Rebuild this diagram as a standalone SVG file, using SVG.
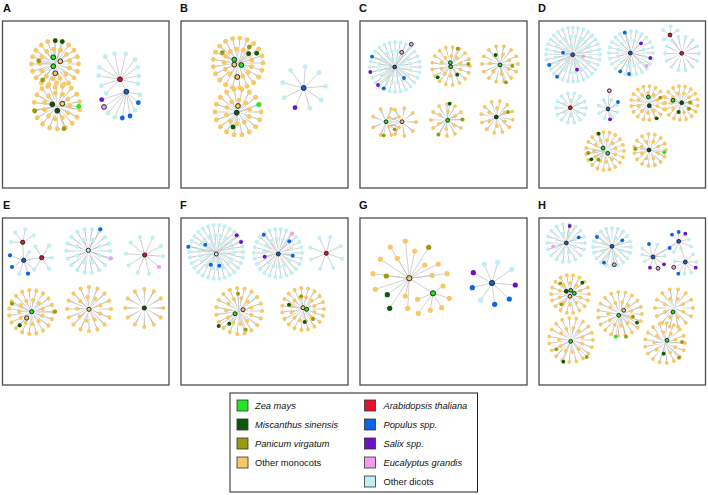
<svg xmlns="http://www.w3.org/2000/svg" width="708" height="495" viewBox="0 0 708 495">
<style>
.box{fill:#fff;stroke:#4d4d4d;stroke-width:1.3}
.lab{font-family:"Liberation Sans",Arial,sans-serif;font-weight:bold;font-size:11px;fill:#111}
.sp{fill:none;stroke:#bcbcbc;stroke-dasharray:0.15 0.85;stroke-dashoffset:0.075}
.e{fill:none;stroke:#bcbcbc;stroke-width:0.7}
.m,.d{fill:none;stroke-linecap:round;stroke-dasharray:0.001 0.999;stroke-width:4.2}
.m{stroke:#f8c865}.d{stroke:#bdeff3}
.sA .m,.sA .d{stroke-width:4.8}
.sC .m,.sC .d{stroke-width:3.8}
.sE .m,.sE .d{stroke-width:4.2}
.sF .m,.sF .d{stroke-width:4}
.zm{fill:#22e622}.ms{fill:#0b5a0b}.pv{fill:#9a9a10}.om{fill:#f8c865}.at{fill:#e8102c}.po{fill:#0b63e5}.sx{fill:#7010c8}.eg{fill:#f79bee}.od{fill:#bdeff3}
.h{stroke:#1a1a1a;stroke-width:0.9}
.lt{font-family:"Liberation Sans",Arial,sans-serif;font-size:9.3px;fill:#111}
.it{font-style:italic}
.sw{stroke:#333;stroke-width:0.8}
</style>
<g id="panels">
<rect class="box" x="2.5" y="21" width="166.5" height="167"/><text class="lab" x="3" y="11.5">A</text>
<rect class="box" x="181" y="21" width="167" height="167"/><text class="lab" x="180" y="11.5">B</text>
<rect class="box" x="360" y="21" width="167" height="167"/><text class="lab" x="359" y="11.5">C</text>
<rect class="box" x="539" y="21" width="166.5" height="167"/><text class="lab" x="538" y="11.5">D</text>
<rect class="box" x="2.5" y="218" width="166.5" height="167"/><text class="lab" x="3" y="208.5">E</text>
<rect class="box" x="181" y="218" width="167" height="167"/><text class="lab" x="180" y="208.5">F</text>
<rect class="box" x="360" y="218" width="167" height="167"/><text class="lab" x="359" y="208.5">G</text>
<rect class="box" x="539" y="218" width="166.5" height="167"/><text class="lab" x="538" y="208.5">H</text>
</g>
<g id="connectors">
<circle class="sp" transform="translate(55 64)" r="11.75" stroke-width="23.5" pathLength="20"/>
<circle class="sp" transform="translate(55 64) rotate(15)" r="7.5" stroke-width="15" pathLength="13"/>
<circle class="sp" transform="translate(57 106) rotate(9)" r="11.5" stroke-width="23" pathLength="18"/>
<circle class="sp" transform="translate(57 106)" r="6.5" stroke-width="13" pathLength="11"/>
<path class="e" d="M55 64L55.3 40.7M55 64L63 42M55 64L38.7 61M55 64L42.7 80M57 106L78.7 106.3M57 106L34.7 111M57 106L64 128.7M120 79.3L105.3 56.7M120 79.3L114.7 53.7M120 79.3L125.7 54M120 79.3L135 59.3M120 79.3L99.3 67.3M120 79.3L137.7 67.3M120 79.3L98.7 75.7M120 79.3L138.7 76M120 79.3L101.3 85.7M120 79.3L138 83.7M120 79.3L106 93.3M120 79.3L126.3 91.7M126.3 91.7L140 94.7M126.3 91.7L138.3 102.7M126.3 91.7L135 110.3M126.3 91.7L130 116M126.3 91.7L122.3 118M126.3 91.7L114.7 117.3M126.3 91.7L108 113M126.3 91.7L104 107M126.3 91.7L101.7 99.7"/>
<circle class="sp" transform="translate(238 63)" r="12.5" stroke-width="25" pathLength="21"/>
<circle class="sp" transform="translate(238 63) rotate(15)" r="7" stroke-width="14" pathLength="13"/>
<circle class="sp" transform="translate(238 112)" r="11.5" stroke-width="23" pathLength="18"/>
<circle class="sp" transform="translate(238 112) rotate(22)" r="6" stroke-width="12" pathLength="10"/>
<path class="e" d="M238 63L249.3 47M238 63L222.3 52.7M238 63L248.7 53.7M238 63L256.7 53.3M238 112L258.7 104.7M238 112L233 127M303.7 88L290.7 70.3M303.7 88L305.3 66.7M303.7 88L319 72.7M303.7 88L282.7 82.7M303.7 88L325.3 86.3M303.7 88L284.3 97.7M303.7 88L321 100M303.7 88L295 107.7M303.7 88L309.7 108.3"/>
<circle class="sp" transform="translate(395 67)" r="12.5" stroke-width="25" pathLength="28"/>
<circle class="sp" transform="translate(395 67) rotate(11)" r="8" stroke-width="16" pathLength="16"/>
<circle class="sp" transform="translate(395 67) rotate(20)" r="4" stroke-width="8" pathLength="8"/>
<circle class="sp" transform="translate(451 66)" r="9.5" stroke-width="19" pathLength="17"/>
<circle class="sp" transform="translate(451 66) rotate(20)" r="5" stroke-width="10" pathLength="10"/>
<circle class="sp" transform="translate(500 64)" r="9" stroke-width="18" pathLength="14"/>
<circle class="sp" transform="translate(500 64) rotate(30)" r="5" stroke-width="10" pathLength="7"/>
<circle class="sp" transform="translate(386 122) rotate(22.5)" r="7" stroke-width="14" pathLength="8"/>
<circle class="sp" transform="translate(402 122)" r="7" stroke-width="14" pathLength="9"/>
<circle class="sp" transform="translate(447 120)" r="8" stroke-width="16" pathLength="12"/>
<circle class="sp" transform="translate(447 120) rotate(36)" r="4.5" stroke-width="9" pathLength="6"/>
<circle class="sp" transform="translate(497 117) rotate(10)" r="8" stroke-width="16" pathLength="12"/>
<circle class="sp" transform="translate(497 117) rotate(30)" r="4.5" stroke-width="9" pathLength="6"/>
<path class="e" d="M395 67L411.3 44.3M395 67L401.7 52.3M395 67L372 56.7M395 67L404 78M395 67L383.7 88.3M395 67L370.3 72M395 67L378 85M451 66L457.7 48.7M451 66L468.3 64M451 66L437.7 77.3M451 66L457.3 74.7M500 64L495.7 55M500 64L512.3 66M500 64L506 82.3M386 122L383.7 135.3M386 122L394.7 129.3M386 122L402 122M447 120L449.7 103.7M447 120L462.3 119.3M447 120L438.3 134.7M497 117L508 112"/>
<circle class="sp" transform="translate(573 54.5)" r="13.5" stroke-width="27" pathLength="32"/>
<circle class="sp" transform="translate(573 54.5) rotate(9)" r="9" stroke-width="18" pathLength="20"/>
<circle class="sp" transform="translate(573 54.5) rotate(20)" r="4.5" stroke-width="9" pathLength="9"/>
<circle class="sp" transform="translate(631 53)" r="11" stroke-width="22" pathLength="24"/>
<circle class="sp" transform="translate(631 53) rotate(15)" r="6.5" stroke-width="13" pathLength="12"/>
<circle class="sp" transform="translate(682 53.5)" r="8.5" stroke-width="17" pathLength="14"/>
<circle class="sp" transform="translate(571 108)" r="7.5" stroke-width="15" pathLength="14"/>
<circle class="sp" transform="translate(571 108) rotate(30)" r="4" stroke-width="8" pathLength="6"/>
<circle class="sp" transform="translate(608 109) rotate(20)" r="5" stroke-width="10" pathLength="8"/>
<circle class="sp" transform="translate(648 103)" r="8.5" stroke-width="17" pathLength="17"/>
<circle class="sp" transform="translate(648 103) rotate(18)" r="5" stroke-width="10" pathLength="10"/>
<circle class="sp" transform="translate(681 103) rotate(9)" r="8.5" stroke-width="17" pathLength="17"/>
<circle class="sp" transform="translate(681 103)" r="5" stroke-width="10" pathLength="10"/>
<circle class="sp" transform="translate(605 151)" r="9.5" stroke-width="19" pathLength="19"/>
<circle class="sp" transform="translate(605 151) rotate(18)" r="5.5" stroke-width="11" pathLength="11"/>
<circle class="sp" transform="translate(650 150)" r="8" stroke-width="16" pathLength="15"/>
<circle class="sp" transform="translate(650 150) rotate(22)" r="4.5" stroke-width="9" pathLength="8"/>
<path class="e" d="M573 54.5L563 52.7M573 54.5L549.3 65M573 54.5L557 76.7M573 54.5L583.3 56.3M573 54.5L577 69.7M631 53L624.7 32.7M631 53L620.3 71.3M631 53L629 74M631 53L641 43.3M631 53L650.3 58M631 53L646.7 66M670 35L670.7 26.5M670 35L663 30M670 35L677.5 30.5M670 35L663.5 39.5M670 35L682 53.5M608 109L609.3 90.7M608 109L618 102M608 109L610 119.3M648 103L660.3 97.7M648 103L656.7 118.3M681 103L690 102.3M681 103L689 108.7M681 103L678.7 112M681 103L673 100.3M605 151L598.7 133.7M605 151L588.3 153M605 151L591.3 159.3M605 151L598.3 159.7M650 150L635.3 149M650 150L664.3 152.3"/>
<circle class="sp" transform="translate(88.3 251)" r="11" stroke-width="22" pathLength="18"/>
<circle class="sp" transform="translate(88.3 251) rotate(22)" r="6" stroke-width="12" pathLength="8"/>
<circle class="sp" transform="translate(31 312)" r="11" stroke-width="22" pathLength="19"/>
<circle class="sp" transform="translate(31 312) rotate(18)" r="6" stroke-width="12" pathLength="11"/>
<circle class="sp" transform="translate(89 309)" r="11" stroke-width="22" pathLength="16"/>
<circle class="sp" transform="translate(89 309) rotate(22)" r="6" stroke-width="12" pathLength="9"/>
<circle class="sp" transform="translate(144.3 308)" r="9.5" stroke-width="19" pathLength="12"/>
<path class="e" d="M22.7 242.3L15.3 232.7M22.7 242.3L25.3 229.3M22.7 242.3L33.7 235.3M22.7 242.3L11 242M22.7 242.3L23.7 260.3M23.7 260.3L10 255.3M23.7 260.3L29.3 252M23.7 260.3L12 267M23.7 260.3L19.3 274M23.7 260.3L28 273.7M23.7 260.3L34.3 269.7M23.7 260.3L41.7 257.7M41.7 257.7L35.3 246.3M41.7 257.7L49 245.7M41.7 257.7L51.7 257.7M41.7 257.7L49 268.7M41.7 257.7L34.3 269.7M88.3 251L100.3 229.3M88.3 251L111 258.3M144.7 255L140 237M144.7 255L152.7 237.7M144.7 255L130.7 242.7M144.7 255L161 246M144.7 255L126 253.7M144.7 255L163.3 256.3M144.7 255L128.7 265.3M144.7 255L137.7 272.7M144.7 255L149 273.7M144.7 255L159 267M31 312L12 303.7M31 312L55 311.7M31 312L19.7 325.3"/>
<circle class="sp" transform="translate(216.3 252)" r="13.5" stroke-width="27" pathLength="30"/>
<circle class="sp" transform="translate(216.3 252) rotate(6)" r="8.5" stroke-width="17" pathLength="18"/>
<circle class="sp" transform="translate(216.3 252) rotate(20)" r="4.5" stroke-width="9" pathLength="8"/>
<circle class="sp" transform="translate(278 253)" r="12" stroke-width="24" pathLength="26"/>
<circle class="sp" transform="translate(278 253) rotate(7)" r="7" stroke-width="14" pathLength="14"/>
<circle class="sp" transform="translate(239 311)" r="11.5" stroke-width="23" pathLength="19"/>
<circle class="sp" transform="translate(239 311) rotate(18)" r="6.5" stroke-width="13" pathLength="11"/>
<circle class="sp" transform="translate(303 309)" r="10.5" stroke-width="21" pathLength="19"/>
<circle class="sp" transform="translate(303 309) rotate(15)" r="6" stroke-width="12" pathLength="12"/>
<path class="e" d="M216.3 252L188.3 246.7M216.3 252L205.3 244.7M216.3 252L236.7 235.3M216.3 252L241 242M216.3 252L210.7 264.7M216.3 252L219.3 265.7M278 253L263.7 234.7M278 253L292 233.7M278 253L289.3 241.3M278 253L264.7 256.7M278 253L292.7 255.7M326.3 253.3L319.3 238M326.3 253.3L330.3 237M326.3 253.3L310.3 247.7M326.3 253.3L340.7 246M326.3 253.3L311 259.7M326.3 253.3L342 258.7M326.3 253.3L320 268.7M326.3 253.3L333.3 267.7M239 311L238 293.7M239 311L218.7 326M239 311L229.3 323.7M239 311L245.7 329.7M303 309L301.3 296.3M303 309L289 304.7M303 309L313 319M303 309L304.7 322"/>
<path class="e" d="M409.3 278.3L405.3 241M409.3 278.3L390.3 247M409.3 278.3L414.7 251M409.3 278.3L428.7 247.3M409.3 278.3L380.3 259.3M409.3 278.3L397.3 258.3M409.3 278.3L424.7 265M409.3 278.3L438.3 264M409.3 278.3L373 273.7M409.3 278.3L386.3 276M409.3 278.3L432 275.3M409.3 278.3L447 273.7M409.3 278.3L375.3 289.3M409.3 278.3L387.3 294.7M409.3 278.3L405.3 296M409.3 278.3L389.7 308.3M409.3 278.3L407.7 308.3M409.3 278.3L433 293.3M433 293.3L443 286M433 293.3L449.3 298.3M433 293.3L441.7 307.7M433 293.3L430.3 310.3M433 293.3L418.3 313.3M433 293.3L417.7 299.3M492 283L484.3 264.3M492 283L497.7 262.3M492 283L511.7 269.3M492 283L473.3 272.7M492 283L515.3 285M492 283L472.3 287.7M492 283L509.3 299M492 283L494.7 304.3M492 283L480.7 300.3"/>
<circle class="sp" transform="translate(566 243)" r="9.5" stroke-width="19" pathLength="18"/>
<circle class="sp" transform="translate(566 243) rotate(22)" r="5" stroke-width="10" pathLength="8"/>
<circle class="sp" transform="translate(612 247)" r="9.5" stroke-width="19" pathLength="20"/>
<circle class="sp" transform="translate(612 247) rotate(22)" r="5" stroke-width="10" pathLength="8"/>
<circle class="sp" transform="translate(570 294)" r="9.5" stroke-width="19" pathLength="18"/>
<circle class="sp" transform="translate(570 294) rotate(18)" r="5.5" stroke-width="11" pathLength="10"/>
<circle class="sp" transform="translate(620 314)" r="11" stroke-width="22" pathLength="19"/>
<circle class="sp" transform="translate(620 314) rotate(18)" r="6" stroke-width="12" pathLength="11"/>
<circle class="sp" transform="translate(674 308)" r="9.5" stroke-width="19" pathLength="14"/>
<circle class="sp" transform="translate(674 308) rotate(22)" r="5" stroke-width="10" pathLength="8"/>
<circle class="sp" transform="translate(571 340)" r="11" stroke-width="22" pathLength="19"/>
<circle class="sp" transform="translate(571 340) rotate(18)" r="6" stroke-width="12" pathLength="11"/>
<circle class="sp" transform="translate(665 343)" r="10" stroke-width="20" pathLength="17"/>
<circle class="sp" transform="translate(665 343) rotate(22)" r="5.5" stroke-width="11" pathLength="9"/>
<path class="e" d="M566 243L569.7 226M566 243L578.7 237.3M566 243L553 246.3M612 247L597 237M612 247L622.3 240.3M612 247L604 262.7M612 247L614.3 264.7M653 257L649 244M653 257L642.3 248.7M653 257L642.3 254.7M653 257L644.7 261.3M653 257L657.3 244.7M653 257L664.7 256M653 257L650 267.7M653 257L658 268.3M653 257L664 264.3M653 257L669.7 248M653 257L678.7 241.3M678.7 241.3L672 234.7M678.7 241.3L678.7 232M678.7 241.3L685.3 233.7M678.7 241.3L689 239.3M678.7 241.3L691.3 246.3M678.7 241.3L681.3 248.7M678.7 241.3L674 252M678.7 241.3L669.7 248M685.3 262L673.7 267.3M685.3 262L695.7 267.7M685.3 262L678.3 273.7M685.3 262L693 254.3M685.3 262L696.3 262M685.3 262L691.3 272.7M685.3 262L684.7 273.7M685.3 262L674.7 261.3M685.3 262L681.3 248.7M570 294L560.3 283.3M570 294L582.3 282.7M570 294L561.3 304.3M620 314L633 316.7M620 314L637 322.7M620 314L615.7 336.7M620 314L626 336.7M571 340L556.3 349.3M571 340L586.7 357M571 340L563.3 361.7M665 343L682 342M665 343L679 357.7M665 343L663.7 353.7"/>
</g>
<g id="nodes-A" class="sA">
<g id="A-mono-1">
<circle class="m" transform="translate(55 64)" r="23.5" pathLength="20"/>
<circle class="m" transform="translate(55 64) rotate(15)" r="15" pathLength="13"/>
<circle class="ms" cx="55.3" cy="40.7" r="2.4"/><circle class="ms" cx="62.3" cy="41.6" r="2.4"/>
<circle class="pv" cx="38.7" cy="61" r="2.4"/><circle class="pv" cx="42.7" cy="80" r="2.4"/>
<circle class="zm h" cx="53.3" cy="57.3" r="2.4"/><circle class="om h" cx="60.3" cy="61.3" r="2.4"/>
<circle class="zm h" cx="53.3" cy="66.3" r="2.4"/><circle class="om h" cx="55.3" cy="73.3" r="2.4"/>
</g>
<g id="A-mono-2">
<circle class="m" transform="translate(57 106) rotate(9)" r="23" pathLength="18"/>
<circle class="m" transform="translate(57 106)" r="13" pathLength="11"/>
<circle class="zm" cx="78.7" cy="106.3" r="2.4"/><circle class="pv" cx="34.7" cy="111" r="2.4"/><circle class="pv" cx="64" cy="128.7" r="2.4"/>
<circle class="ms h" cx="52.3" cy="104.3" r="2.4"/><circle class="om h" cx="62.3" cy="103.7" r="2.4"/><circle class="ms h" cx="57.3" cy="110.7" r="2.4"/>
</g>
<g id="A-dicots">
<circle class="od" cx="105.3" cy="56.7" r="2.4"/><circle class="od" cx="114.7" cy="53.7" r="2.4"/><circle class="od" cx="125.7" cy="54" r="2.4"/><circle class="od" cx="135" cy="59.3" r="2.4"/><circle class="od" cx="99.3" cy="67.3" r="2.4"/><circle class="od" cx="137.7" cy="67.3" r="2.4"/><circle class="od" cx="98.7" cy="75.7" r="2.4"/><circle class="od" cx="138.7" cy="76" r="2.4"/><circle class="od" cx="101.3" cy="85.7" r="2.4"/><circle class="od" cx="138" cy="83.7" r="2.4"/><circle class="od" cx="106" cy="93.3" r="2.4"/><circle class="od" cx="140" cy="94.7" r="2.4"/><circle class="od" cx="135" cy="110.3" r="2.4"/><circle class="od" cx="114.7" cy="117.3" r="2.4"/><circle class="od" cx="108" cy="113" r="2.4"/>
<circle class="po" cx="138.3" cy="102.7" r="2.4"/><circle class="po" cx="130" cy="116" r="2.4"/><circle class="po" cx="122.3" cy="118" r="2.4"/>
<circle class="sx" cx="101.7" cy="99.7" r="2.4"/><circle class="eg h" cx="104" cy="107" r="2.4"/>
<circle class="at h" cx="120" cy="79.3" r="2.4"/><circle class="po h" cx="126.3" cy="91.7" r="2.4"/>
</g>
</g>
<g id="nodes-B" class="sA">
<g id="B-mono-1">
<circle class="m" transform="translate(238 63)" r="25" pathLength="21"/>
<circle class="m" transform="translate(238 63) rotate(15)" r="14" pathLength="13"/>
<circle class="pv" cx="249.3" cy="47" r="2.4"/><circle class="pv" cx="222.3" cy="52.7" r="2.4"/><circle class="ms" cx="248.7" cy="53.7" r="2.4"/><circle class="ms" cx="256.7" cy="53.3" r="2.4"/>
<circle class="zm h" cx="234.3" cy="59.7" r="2.4"/><circle class="om h" cx="234.3" cy="64.7" r="2.4"/><circle class="zm h" cx="241.3" cy="65" r="2.4"/><circle class="om h" cx="237.3" cy="77" r="2.4"/>
</g>
<g id="B-mono-2">
<circle class="m" transform="translate(238 112)" r="23" pathLength="18"/>
<circle class="m" transform="translate(238 112) rotate(22)" r="12" pathLength="10"/>
<circle class="zm" cx="258.7" cy="104.7" r="2.4"/><circle class="ms" cx="233" cy="127" r="2.4"/>
<circle class="om h" cx="238" cy="106" r="2.4"/><circle class="ms h" cx="236.7" cy="112.7" r="2.4"/>
</g>
<g id="B-dicots">
<circle class="od" cx="290.7" cy="70.3" r="2.4"/><circle class="od" cx="305.3" cy="66.7" r="2.4"/><circle class="od" cx="319" cy="72.7" r="2.4"/><circle class="od" cx="282.7" cy="82.7" r="2.4"/><circle class="od" cx="325.3" cy="86.3" r="2.4"/><circle class="od" cx="284.3" cy="97.7" r="2.4"/><circle class="od" cx="321" cy="100" r="2.4"/><circle class="od" cx="309.7" cy="108.3" r="2.4"/>
<circle class="sx" cx="295" cy="107.7" r="2.4"/><circle class="po h" cx="303.7" cy="88" r="2.4"/>
</g>
</g>
<g id="nodes-C" class="sC">
<g id="C-dicots">
<circle class="d" transform="translate(395 67)" r="25" pathLength="28"/>
<circle class="d" transform="translate(395 67) rotate(11)" r="16" pathLength="16"/>
<circle class="d" transform="translate(395 67) rotate(20)" r="8" pathLength="8"/>
<circle class="eg h" cx="411.3" cy="44.3" r="1.9"/><circle class="eg h" cx="401.7" cy="52.3" r="1.9"/>
<circle class="po" cx="372" cy="56.7" r="1.9"/><circle class="po" cx="404" cy="78" r="1.9"/><circle class="po" cx="383.7" cy="88.3" r="1.9"/>
<circle class="sx" cx="370.3" cy="72" r="1.9"/><circle class="sx" cx="378" cy="85" r="1.9"/>
<circle class="po h" cx="394.7" cy="67" r="1.9"/>
</g>
<g id="C-mono-2">
<circle class="m" transform="translate(451 66)" r="19" pathLength="17"/>
<circle class="m" transform="translate(451 66) rotate(20)" r="10" pathLength="10"/>
<circle class="pv" cx="457.7" cy="48.7" r="1.9"/><circle class="pv" cx="468.3" cy="64" r="1.9"/><circle class="ms" cx="437.7" cy="77.3" r="1.9"/><circle class="ms" cx="457.3" cy="74.7" r="1.9"/>
<circle class="zm h" cx="450.3" cy="62.7" r="1.9"/><circle class="zm h" cx="450.7" cy="66.7" r="1.9"/>
</g>
<g id="C-mono-3">
<circle class="m" transform="translate(500 64)" r="18" pathLength="14"/>
<circle class="m" transform="translate(500 64) rotate(30)" r="10" pathLength="7"/>
<circle class="ms" cx="495.7" cy="55" r="1.9"/><circle class="pv" cx="512.3" cy="66" r="1.9"/><circle class="pv" cx="506" cy="82.3" r="1.9"/>
<circle class="zm h" cx="500" cy="65" r="1.9"/>
</g>
<g id="C-mono-4">
<circle class="m" transform="translate(386 122) rotate(22.5)" r="14" pathLength="8"/>
<circle class="m" transform="translate(402 122)" r="14" pathLength="9"/>
<circle class="pv" cx="383.7" cy="135.3" r="1.9"/><circle class="pv" cx="394.7" cy="129.3" r="1.9"/>
<circle class="zm h" cx="386" cy="121.7" r="1.9"/><circle class="om h" cx="402" cy="121.7" r="1.9"/>
</g>
<g id="C-mono-5">
<circle class="m" transform="translate(447 120)" r="16" pathLength="12"/>
<circle class="m" transform="translate(447 120) rotate(36)" r="9" pathLength="6"/>
<circle class="ms" cx="449.7" cy="103.7" r="1.9"/><circle class="pv" cx="462.3" cy="119.3" r="1.9"/><circle class="pv" cx="438.3" cy="134.7" r="1.9"/>
<circle class="zm h" cx="447.7" cy="120.3" r="1.9"/>
</g>
<g id="C-mono-6">
<circle class="m" transform="translate(497 117) rotate(10)" r="16" pathLength="12"/>
<circle class="m" transform="translate(497 117) rotate(30)" r="9" pathLength="6"/>
<circle class="pv" cx="508" cy="112" r="1.9"/><circle class="ms h" cx="496.3" cy="117" r="1.9"/>
</g>
</g>
<g id="nodes-D" class="sC">
<g id="D-dicots-1">
<circle class="d" transform="translate(573 54.5)" r="27" pathLength="32"/>
<circle class="d" transform="translate(573 54.5) rotate(9)" r="18" pathLength="20"/>
<circle class="d" transform="translate(573 54.5) rotate(20)" r="9" pathLength="9"/>
<circle class="po" cx="563" cy="52.7" r="1.9"/><circle class="po" cx="549.3" cy="65" r="1.9"/><circle class="po" cx="557" cy="76.7" r="1.9"/><circle class="eg" cx="583.3" cy="56.3" r="1.9"/><circle class="sx" cx="577" cy="69.7" r="1.9"/>
<circle class="po h" cx="572.7" cy="54.7" r="1.9"/>
</g>
<g id="D-dicots-2">
<circle class="d" transform="translate(631 53)" r="22" pathLength="24"/>
<circle class="d" transform="translate(631 53) rotate(15)" r="13" pathLength="12"/>
<circle class="po" cx="624.7" cy="32.7" r="1.9"/><circle class="po" cx="620.3" cy="71.3" r="1.9"/><circle class="po" cx="629" cy="74" r="1.9"/><circle class="sx" cx="641" cy="43.3" r="1.9"/><circle class="sx" cx="650.3" cy="58" r="1.9"/><circle class="eg" cx="646.7" cy="66" r="1.9"/>
<circle class="po h" cx="630.3" cy="53" r="1.9"/>
</g>
<g id="D-dicots-3">
<circle class="d" transform="translate(682 53.5)" r="17" pathLength="14"/>
<circle class="od" cx="670.7" cy="26.5" r="1.9"/><circle class="od" cx="663" cy="30" r="1.9"/><circle class="od" cx="677.5" cy="30.5" r="1.9"/><circle class="od" cx="663.5" cy="39.5" r="1.9"/>
<circle class="at h" cx="670" cy="35" r="1.9"/><circle class="at h" cx="681.7" cy="53.3" r="1.9"/>
</g>
<g id="D-dicots-4">
<circle class="d" transform="translate(571 108)" r="15" pathLength="14"/>
<circle class="d" transform="translate(571 108) rotate(30)" r="8" pathLength="6"/>
<circle class="at h" cx="570.3" cy="107.7" r="1.9"/>
</g>
<g id="D-dicots-5">
<circle class="d" transform="translate(608 109) rotate(20)" r="10" pathLength="8"/>
<circle class="eg h" cx="609.3" cy="90.7" r="1.9"/><circle class="po" cx="618" cy="102" r="1.9"/><circle class="sx" cx="610" cy="119.3" r="1.9"/>
<circle class="po h" cx="608" cy="109" r="1.9"/>
</g>
<g id="D-mono-6">
<circle class="m" transform="translate(648 103)" r="17" pathLength="17"/>
<circle class="m" transform="translate(648 103) rotate(18)" r="10" pathLength="10"/>
<circle class="pv" cx="660.3" cy="97.7" r="1.9"/><circle class="ms" cx="656.7" cy="118.3" r="1.9"/>
<circle class="zm h" cx="648.3" cy="97" r="1.9"/><circle class="ms h" cx="649.3" cy="105.7" r="1.9"/>
</g>
<g id="D-mono-7">
<circle class="m" transform="translate(681 103) rotate(9)" r="17" pathLength="17"/>
<circle class="m" transform="translate(681 103)" r="10" pathLength="10"/>
<circle class="pv" cx="690" cy="102.3" r="1.9"/><circle class="pv" cx="689" cy="108.7" r="1.9"/><circle class="ms" cx="678.7" cy="112" r="1.9"/>
<circle class="zm h" cx="673" cy="100.3" r="1.9"/><circle class="ms h" cx="681.7" cy="102.7" r="1.9"/>
</g>
<g id="D-mono-8">
<circle class="m" transform="translate(605 151)" r="19" pathLength="19"/>
<circle class="m" transform="translate(605 151) rotate(18)" r="11" pathLength="11"/>
<circle class="ms" cx="598.7" cy="133.7" r="1.9"/><circle class="pv" cx="588.3" cy="153" r="1.9"/><circle class="ms" cx="591.3" cy="159.3" r="1.9"/><circle class="pv" cx="598.3" cy="159.7" r="1.9"/>
<circle class="zm h" cx="603" cy="148" r="1.9"/><circle class="zm h" cx="607.7" cy="153.3" r="1.9"/>
</g>
<g id="D-mono-9">
<circle class="m" transform="translate(650 150)" r="16" pathLength="15"/>
<circle class="m" transform="translate(650 150) rotate(22)" r="9" pathLength="8"/>
<circle class="pv" cx="635.3" cy="149" r="1.9"/><circle class="zm" cx="664.3" cy="152.3" r="1.9"/>
<circle class="ms h" cx="649" cy="150" r="1.9"/>
</g>
</g>
<g id="nodes-E" class="sE">
<g id="E-dicots-1">
<circle class="od" cx="15.3" cy="232.7" r="2.1"/><circle class="od" cx="25.3" cy="229.3" r="2.1"/><circle class="od" cx="33.7" cy="235.3" r="2.1"/><circle class="od" cx="11" cy="242" r="2.1"/><circle class="od" cx="35.3" cy="246.3" r="2.1"/><circle class="od" cx="49" cy="245.7" r="2.1"/><circle class="od" cx="29.3" cy="252" r="2.1"/><circle class="od" cx="51.7" cy="257.7" r="2.1"/><circle class="od" cx="19.3" cy="274" r="2.1"/><circle class="od" cx="34.3" cy="269.7" r="2.1"/><circle class="od" cx="49" cy="268.7" r="2.1"/>
<circle class="po" cx="10" cy="255.3" r="2.1"/><circle class="po" cx="12" cy="267" r="2.1"/><circle class="po" cx="28" cy="273.7" r="2.1"/>
<circle class="at h" cx="22.7" cy="242.3" r="2.1"/><circle class="po h" cx="23.7" cy="260.3" r="2.1"/><circle class="at h" cx="41.7" cy="257.7" r="2.1"/>
</g>
<g id="E-dicots-2">
<circle class="d" transform="translate(88.3 251)" r="22" pathLength="18"/>
<circle class="d" transform="translate(88.3 251) rotate(22)" r="12" pathLength="8"/>
<circle class="po" cx="100.3" cy="229.3" r="2.1"/><circle class="eg" cx="111" cy="258.3" r="2.1"/>
<circle class="od h" cx="88.3" cy="250.3" r="2.1"/>
</g>
<g id="E-dicots-3">
<circle class="od" cx="140" cy="237" r="2.1"/><circle class="od" cx="152.7" cy="237.7" r="2.1"/><circle class="od" cx="130.7" cy="242.7" r="2.1"/><circle class="od" cx="161" cy="246" r="2.1"/><circle class="od" cx="126" cy="253.7" r="2.1"/><circle class="od" cx="163.3" cy="256.3" r="2.1"/><circle class="od" cx="128.7" cy="265.3" r="2.1"/><circle class="od" cx="137.7" cy="272.7" r="2.1"/><circle class="od" cx="149" cy="273.7" r="2.1"/>
<circle class="eg" cx="159" cy="267" r="2.1"/><circle class="at h" cx="144.7" cy="255" r="2.1"/>
</g>
<g id="E-mono-4">
<circle class="m" transform="translate(31 312)" r="22" pathLength="19"/>
<circle class="m" transform="translate(31 312) rotate(18)" r="12" pathLength="11"/>
<circle class="pv" cx="12" cy="303.7" r="2.1"/><circle class="pv" cx="55" cy="311.7" r="2.1"/><circle class="ms" cx="19.7" cy="325.3" r="2.1"/>
<circle class="zm h" cx="31.7" cy="311.7" r="2.1"/><circle class="om h" cx="26.7" cy="318" r="2.1"/>
</g>
<g id="E-mono-5">
<circle class="m" transform="translate(89 309)" r="22" pathLength="16"/>
<circle class="m" transform="translate(89 309) rotate(22)" r="12" pathLength="9"/>
<circle class="om h" cx="89" cy="309.3" r="2.1"/>
</g>
<g id="E-mono-6">
<circle class="m" transform="translate(144.3 308)" r="19" pathLength="12"/>
<circle class="ms h" cx="144.3" cy="308" r="2.1"/>
</g>
</g>
<g id="nodes-F" class="sF">
<g id="F-dicots-1">
<circle class="d" transform="translate(216.3 252)" r="27" pathLength="30"/>
<circle class="d" transform="translate(216.3 252) rotate(6)" r="17" pathLength="18"/>
<circle class="d" transform="translate(216.3 252) rotate(20)" r="9" pathLength="8"/>
<circle class="po" cx="188.3" cy="246.7" r="2"/><circle class="po" cx="205.3" cy="244.7" r="2"/><circle class="sx" cx="236.7" cy="235.3" r="2"/><circle class="sx" cx="241" cy="242" r="2"/><circle class="po" cx="210.7" cy="264.7" r="2"/><circle class="po" cx="219.3" cy="265.7" r="2"/>
<circle class="od h" cx="216.3" cy="254" r="2"/>
</g>
<g id="F-dicots-2">
<circle class="d" transform="translate(278 253)" r="24" pathLength="26"/>
<circle class="d" transform="translate(278 253) rotate(7)" r="14" pathLength="14"/>
<circle class="po" cx="263.7" cy="234.7" r="2"/><circle class="eg" cx="292" cy="233.7" r="2"/><circle class="po" cx="289.3" cy="241.3" r="2"/><circle class="sx" cx="264.7" cy="256.7" r="2"/><circle class="po" cx="292.7" cy="255.7" r="2"/>
<circle class="po h" cx="278.3" cy="254" r="2"/>
</g>
<g id="F-dicots-3">
<circle class="od" cx="319.3" cy="238" r="2"/><circle class="od" cx="330.3" cy="237" r="2"/><circle class="od" cx="310.3" cy="247.7" r="2"/><circle class="od" cx="340.7" cy="246" r="2"/><circle class="od" cx="311" cy="259.7" r="2"/><circle class="od" cx="342" cy="258.7" r="2"/><circle class="od" cx="320" cy="268.7" r="2"/><circle class="od" cx="333.3" cy="267.7" r="2"/>
<circle class="at h" cx="326.3" cy="253.3" r="2"/>
</g>
<g id="F-mono-4">
<circle class="m" transform="translate(239 311)" r="23" pathLength="19"/>
<circle class="m" transform="translate(239 311) rotate(18)" r="13" pathLength="11"/>
<circle class="pv" cx="238" cy="293.7" r="2"/><circle class="ms" cx="218.7" cy="326" r="2"/><circle class="ms" cx="229.3" cy="323.7" r="2"/><circle class="pv" cx="245.7" cy="329.7" r="2"/>
<circle class="zm h" cx="235" cy="313.7" r="2"/><circle class="om h" cx="243" cy="309.7" r="2"/>
</g>
<g id="F-mono-5">
<circle class="m" transform="translate(303 309)" r="21" pathLength="19"/>
<circle class="m" transform="translate(303 309) rotate(15)" r="12" pathLength="12"/>
<circle class="pv" cx="301.3" cy="296.3" r="2"/><circle class="ms" cx="289" cy="304.7" r="2"/><circle class="pv" cx="313" cy="319" r="2"/><circle class="ms" cx="304.7" cy="322" r="2"/>
<circle class="om h" cx="303" cy="307.7" r="2"/><circle class="zm h" cx="306.7" cy="309.3" r="2"/>
</g>
</g>
<g id="nodes-G">
<g id="G-mono-1">
<circle class="om" cx="405.3" cy="241" r="2.6"/><circle class="om" cx="390.3" cy="247" r="2.6"/><circle class="om" cx="414.7" cy="251" r="2.6"/><circle class="om" cx="380.3" cy="259.3" r="2.6"/><circle class="om" cx="397.3" cy="258.3" r="2.6"/><circle class="om" cx="424.7" cy="265" r="2.6"/><circle class="om" cx="438.3" cy="264" r="2.6"/><circle class="om" cx="373" cy="273.7" r="2.6"/><circle class="om" cx="432" cy="275.3" r="2.6"/><circle class="om" cx="447" cy="273.7" r="2.6"/><circle class="om" cx="375.3" cy="289.3" r="2.6"/><circle class="om" cx="443" cy="286" r="2.6"/><circle class="om" cx="405.3" cy="296" r="2.6"/><circle class="om" cx="417.7" cy="299.3" r="2.6"/><circle class="om" cx="449.3" cy="298.3" r="2.6"/><circle class="om" cx="407.7" cy="308.3" r="2.6"/><circle class="om" cx="418.3" cy="313.3" r="2.6"/><circle class="om" cx="430.3" cy="310.3" r="2.6"/><circle class="om" cx="441.7" cy="307.7" r="2.6"/>
<circle class="pv" cx="428.7" cy="247.3" r="2.6"/><circle class="pv" cx="386.3" cy="276" r="2.6"/>
<circle class="ms" cx="387.3" cy="294.7" r="2.6"/><circle class="ms" cx="389.7" cy="308.3" r="2.6"/>
<circle class="om h" cx="409.3" cy="278.3" r="2.6"/><circle class="zm h" cx="433" cy="293.3" r="2.6"/>
</g>
<g id="G-dicots-2">
<circle class="od" cx="484.3" cy="264.3" r="2.6"/><circle class="od" cx="497.7" cy="262.3" r="2.6"/><circle class="od" cx="511.7" cy="269.3" r="2.6"/><circle class="od" cx="480.7" cy="300.3" r="2.6"/>
<circle class="sx" cx="473.3" cy="272.7" r="2.6"/><circle class="sx" cx="515.3" cy="285" r="2.6"/>
<circle class="po" cx="472.3" cy="287.7" r="2.6"/><circle class="po" cx="509.3" cy="299" r="2.6"/><circle class="po" cx="494.7" cy="304.3" r="2.6"/>
<circle class="po h" cx="492" cy="283" r="2.6"/>
</g>
</g>
<g id="nodes-H" class="sC">
<g id="H-dicots-1">
<circle class="d" transform="translate(566 243)" r="19" pathLength="18"/>
<circle class="d" transform="translate(566 243) rotate(22)" r="10" pathLength="8"/>
<circle class="sx" cx="569.7" cy="226" r="1.9"/><circle class="po" cx="578.7" cy="237.3" r="1.9"/><circle class="eg" cx="553" cy="246.3" r="1.9"/>
<circle class="po h" cx="566.3" cy="243" r="1.9"/>
</g>
<g id="H-dicots-2">
<circle class="d" transform="translate(612 247)" r="19" pathLength="20"/>
<circle class="d" transform="translate(612 247) rotate(22)" r="10" pathLength="8"/>
<circle class="po" cx="597" cy="237" r="1.9"/><circle class="po" cx="622.3" cy="240.3" r="1.9"/><circle class="po" cx="604" cy="262.7" r="1.9"/><circle class="eg h" cx="614.3" cy="264.7" r="1.9"/>
<circle class="po h" cx="612" cy="246.3" r="1.9"/>
</g>
<g id="H-dicots-3">
<circle class="od" cx="642.3" cy="248.7" r="1.9"/><circle class="od" cx="642.3" cy="254.7" r="1.9"/><circle class="od" cx="644.7" cy="261.3" r="1.9"/><circle class="od" cx="657.3" cy="244.7" r="1.9"/><circle class="od" cx="664.7" cy="256" r="1.9"/><circle class="od" cx="689" cy="239.3" r="1.9"/><circle class="od" cx="691.3" cy="246.3" r="1.9"/><circle class="od" cx="674" cy="252" r="1.9"/><circle class="od" cx="681.3" cy="248.7" r="1.9"/><circle class="od" cx="693" cy="254.3" r="1.9"/><circle class="od" cx="696.3" cy="262" r="1.9"/><circle class="od" cx="691.3" cy="272.7" r="1.9"/><circle class="od" cx="684.7" cy="273.7" r="1.9"/><circle class="od" cx="674.7" cy="261.3" r="1.9"/>
<circle class="po" cx="649" cy="244" r="1.9"/><circle class="po" cx="672" cy="234.7" r="1.9"/><circle class="po" cx="678.7" cy="232" r="1.9"/><circle class="po" cx="669.7" cy="248" r="1.9"/><circle class="po" cx="678.3" cy="273.7" r="1.9"/>
<circle class="sx" cx="685.3" cy="233.7" r="1.9"/><circle class="sx" cx="650" cy="267.7" r="1.9"/><circle class="sx" cx="664" cy="264.3" r="1.9"/><circle class="sx" cx="695.7" cy="267.7" r="1.9"/>
<circle class="eg h" cx="658" cy="268.3" r="1.9"/><circle class="eg h" cx="673.7" cy="267.3" r="1.9"/>
<circle class="po h" cx="653" cy="257" r="1.9"/><circle class="po h" cx="678.7" cy="241.3" r="1.9"/><circle class="po h" cx="685.3" cy="262" r="1.9"/>
</g>
<g id="H-mono-4">
<circle class="m" transform="translate(570 294)" r="19" pathLength="18"/>
<circle class="m" transform="translate(570 294) rotate(18)" r="11" pathLength="10"/>
<circle class="pv" cx="560.3" cy="283.3" r="1.9"/><circle class="ms" cx="582.3" cy="282.7" r="1.9"/><circle class="pv" cx="561.3" cy="304.3" r="1.9"/>
<circle class="ms h" cx="566.3" cy="291.3" r="1.9"/><circle class="zm h" cx="570.7" cy="290.3" r="1.9"/><circle class="zm h" cx="574.3" cy="293.3" r="1.9"/><circle class="om h" cx="570" cy="296.3" r="1.9"/>
</g>
<g id="H-mono-5">
<circle class="m" transform="translate(620 314)" r="22" pathLength="19"/>
<circle class="m" transform="translate(620 314) rotate(18)" r="12" pathLength="11"/>
<circle class="pv" cx="633" cy="316.7" r="1.9"/><circle class="ms" cx="637" cy="322.7" r="1.9"/><circle class="zm" cx="615.7" cy="336.7" r="1.9"/><circle class="pv" cx="626" cy="336.7" r="1.9"/>
<circle class="zm h" cx="618.7" cy="315.3" r="1.9"/><circle class="om h" cx="623.7" cy="310.3" r="1.9"/>
</g>
<g id="H-mono-6">
<circle class="m" transform="translate(674 308)" r="19" pathLength="14"/>
<circle class="m" transform="translate(674 308) rotate(22)" r="10" pathLength="8"/>
<circle class="zm h" cx="673" cy="312" r="1.9"/>
</g>
<g id="H-mono-7">
<circle class="m" transform="translate(571 340)" r="22" pathLength="19"/>
<circle class="m" transform="translate(571 340) rotate(18)" r="12" pathLength="11"/>
<circle class="pv" cx="556.3" cy="349.3" r="1.9"/><circle class="pv" cx="586.7" cy="357" r="1.9"/><circle class="ms" cx="563.3" cy="361.7" r="1.9"/>
<circle class="zm h" cx="570.7" cy="341.3" r="1.9"/>
</g>
<g id="H-mono-8">
<circle class="m" transform="translate(665 343)" r="20" pathLength="17"/>
<circle class="m" transform="translate(665 343) rotate(22)" r="11" pathLength="9"/>
<circle class="pv" cx="682" cy="342" r="1.9"/><circle class="pv" cx="679" cy="357.7" r="1.9"/><circle class="ms" cx="663.7" cy="353.7" r="1.9"/>
<circle class="zm h" cx="667" cy="340.3" r="1.9"/>
</g>
</g>
<g id="legend">
<rect x="230" y="393" width="247.5" height="99" fill="#fff" stroke="#222" stroke-width="1"/>
<rect class="zm sw" x="237" y="400" width="11" height="11"/><text class="lt it" x="255" y="408.8">Zea mays</text>
<rect class="ms sw" x="237" y="419" width="11" height="11"/><text class="lt it" x="255" y="427.8">Miscanthus sinensis</text>
<rect class="pv sw" x="237" y="438" width="11" height="11"/><text class="lt it" x="255" y="446.8">Panicum virgatum</text>
<rect class="om sw" x="237" y="457" width="11" height="11"/><text class="lt" x="255" y="465.8">Other monocots</text>
<rect class="at sw" x="364.5" y="400" width="11" height="11"/><text class="lt it" x="383.5" y="408.8">Arabidopsis thaliana</text>
<rect class="po sw" x="364.5" y="419" width="11" height="11"/><text class="lt it" x="383.5" y="427.8">Populus spp.</text>
<rect class="sx sw" x="364.5" y="438" width="11" height="11"/><text class="lt it" x="383.5" y="446.8">Salix spp.</text>
<rect class="eg sw" x="364.5" y="457" width="11" height="11"/><text class="lt it" x="383.5" y="465.8">Eucalyptus grandis</text>
<rect class="od sw" x="364.5" y="476" width="11" height="11"/><text class="lt" x="383.5" y="484.8">Other dicots</text>
</g>
</svg>
